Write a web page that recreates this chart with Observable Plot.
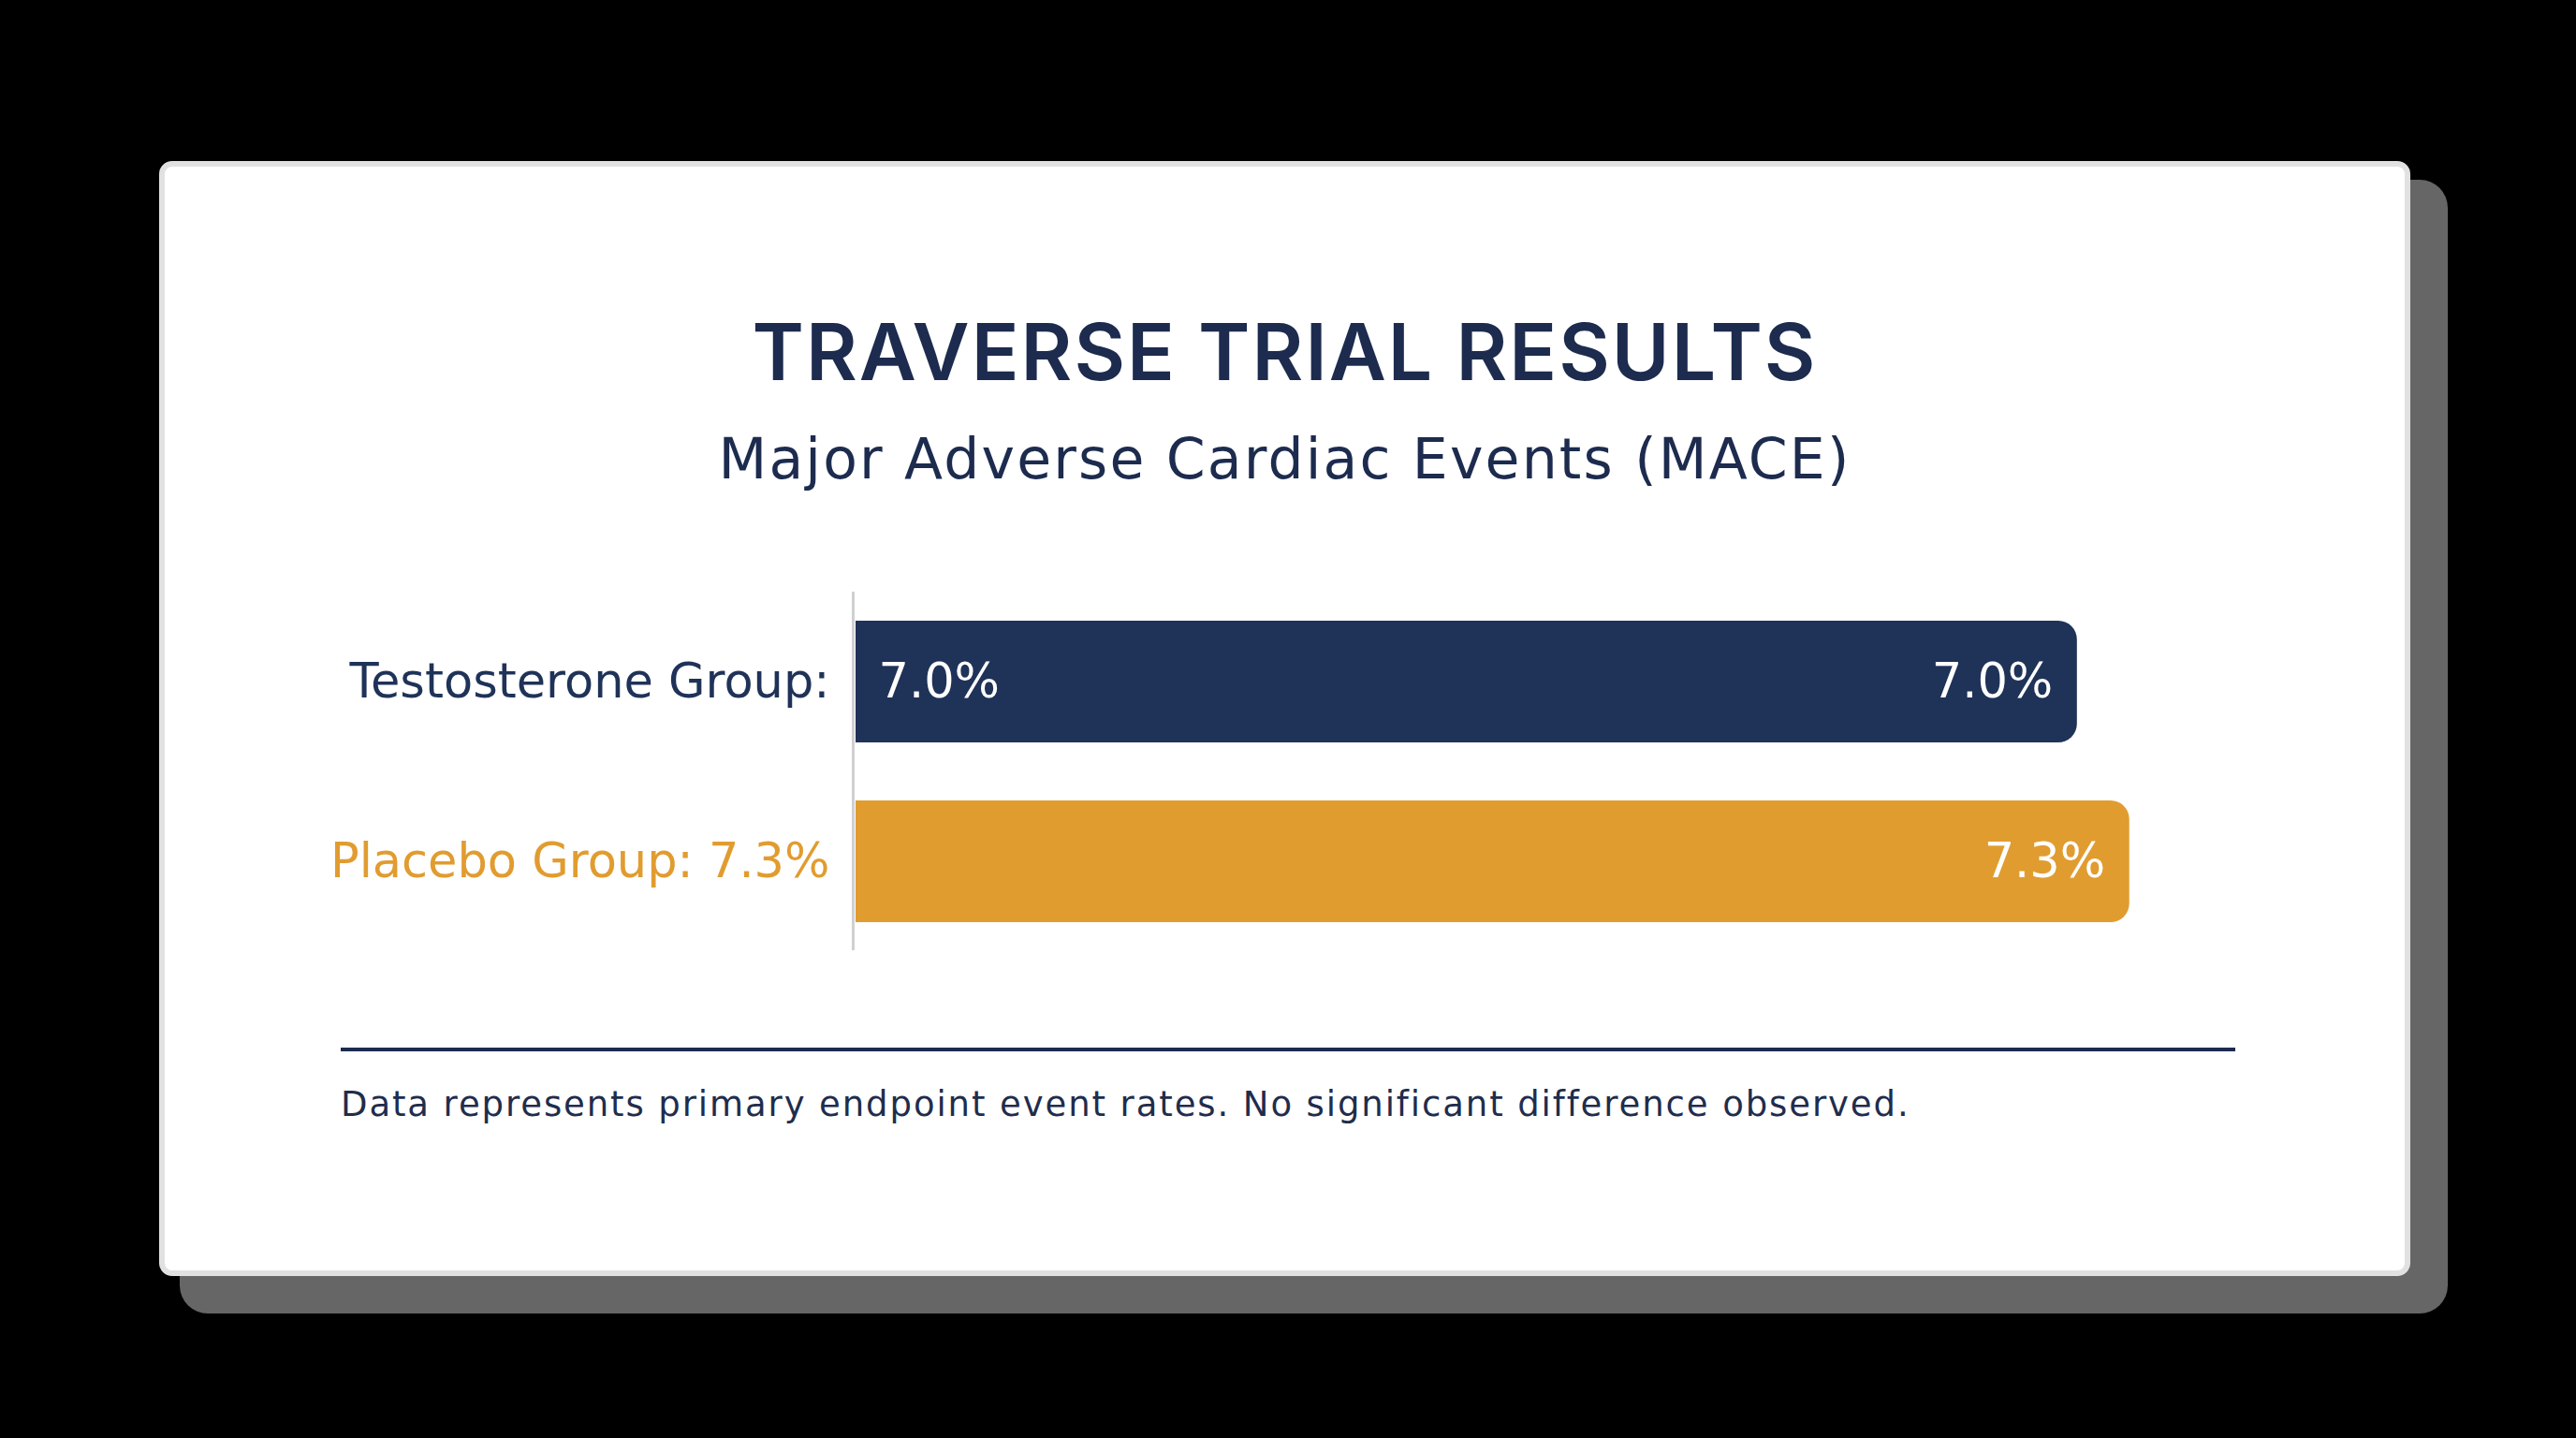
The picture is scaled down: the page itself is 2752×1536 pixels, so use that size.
<!DOCTYPE html>
<html>
<head>
<meta charset="utf-8">
<script src="https://cdn.jsdelivr.net/npm/d3@7"></script>
<script src="https://cdn.jsdelivr.net/npm/@observablehq/plot@0.6"></script>
<style>
  html, body { margin: 0; padding: 0; }
  body { background: #000; width: 2752px; height: 1536px; position: relative; overflow: hidden; font-family: "DejaVu Sans", sans-serif; }
  .abs { position: absolute; }
  .line { line-height: 1; white-space: nowrap; }
  .line span { display: inline-block; }
</style>
</head>
<body>
<div class="abs" style="left:192px;top:192px;width:2423px;height:1211px;background:#666;border-radius:30px"></div>
<div class="abs" style="left:170px;top:172px;width:2405px;height:1191px;background:#fff;border:6px solid #e1e1e1;border-radius:14px;box-sizing:border-box"></div>
<div id="title" class="abs line" style="left:170px;width:2405px;top:334px;text-align:center;font-family:Inter, sans-serif;font-size:84px;font-weight:600;color:#1c2b4e"><span></span></div>
<div id="subtitle" class="abs line" style="left:170px;width:2405px;top:460px;text-align:center;font-size:60px;font-weight:400;color:#1c2b4e"><span></span></div>
<div id="chart" class="abs" style="left:340px;top:620px"></div>
<div class="abs" style="left:364px;top:1119px;width:2024px;height:4px;background:#1c2b4e"></div>
<div id="footer" class="abs line" style="left:364px;top:1161px;font-size:37px;font-weight:400;color:#1f2d4d"><span></span></div>
<script>
const titleText = "TRAVERSE TRIAL RESULTS";
const subtitleText = "Major Adverse Cardiac Events (MACE)";
const footerText = "Data represents primary endpoint event rates. No significant difference observed.";

const groups = ["Testosterone", "Placebo"];
const values = [7.0, 7.3];
const axisLabels = ["Testosterone Group:", "Placebo Group: 7.3%"];
const valueLabels = ["7.0%", "7.3%"];
const startLabels = ["7.0%", ""];
const barColors = ["#1f3258", "#e19c30"];

const data = groups.map((g, i) => ({
  group: g, value: values[i], axisLabel: axisLabels[i],
  valueLabel: valueLabels[i], startLabel: startLabels[i]
}));

function fit(id, text, W) {
  const span = document.querySelector("#" + id + " span");
  span.textContent = text;
  span.style.letterSpacing = "0px";
  const w = span.getBoundingClientRect().width;
  span.style.letterSpacing = ((W - w) / text.length) + "px";
}
fit("title", titleText, 1138);
fit("subtitle", subtitleText, 1210);
fit("footer", footerText, 1676);

const pxPerUnit = 186.4;
const x0 = 574;
const chart = Plot.plot({
  width: 2100,
  height: 410,
  marginLeft: x0, marginRight: 35, marginTop: 12, marginBottom: 15,
  x: { domain: [0, 8], range: [x0, x0 + 8 * pxPerUnit], axis: null },
  y: { domain: groups, range: [43, 365], paddingInner: 62 / 192, paddingOuter: 0, axis: null },
  color: { domain: groups, range: barColors },
  style: { fontFamily: "'DejaVu Sans', sans-serif", background: "transparent", overflow: "visible" },
  marks: [
    Plot.barX(data, { x: "value", y: "group", fill: "group", rx: 20 }),
    Plot.barX(data, { x1: 0, x2: d => d.value / 2, y: "group", fill: "group" }),
    Plot.ruleX([0], { dx: -3, stroke: "#d0d0d0", strokeWidth: 3 }),
    Plot.text(data, { x: 0, y: "group", text: "axisLabel", textAnchor: "end", dx: -28, fill: "group", fontSize: 51 }),
    Plot.text(data, { x: 0, y: "group", text: "startLabel", textAnchor: "start", dx: 24, fill: "white", fontSize: 51 }),
    Plot.text(data, { x: "value", y: "group", text: "valueLabel", textAnchor: "end", dx: -26, fill: "white", fontSize: 51 })
  ]
});
document.getElementById("chart").appendChild(chart);
</script>
</body>
</html>
